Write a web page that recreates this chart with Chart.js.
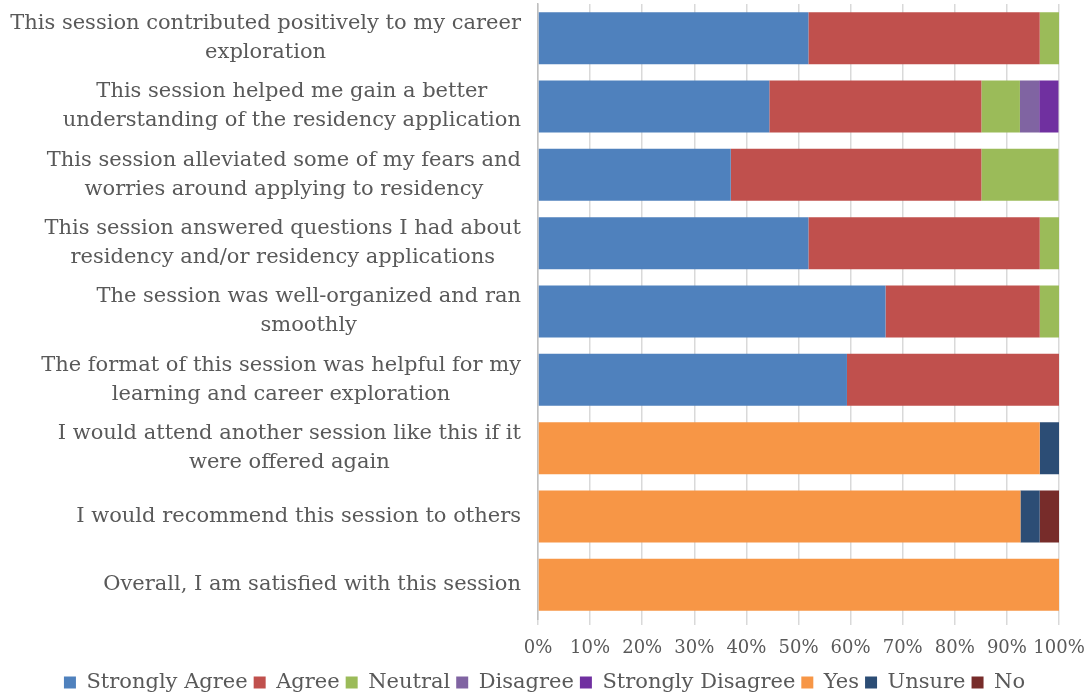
<!DOCTYPE html>
<html>
<head>
<meta charset="utf-8">
<script src="https://cdn.jsdelivr.net/npm/chart.js@4"></script>
<style>
html,body{margin:0;padding:0;background:#fff;}
#wrap{width:1089px;height:696px;}
</style>
</head>
<body>
<div id="wrap"><canvas id="c" width="1089" height="696"></canvas></div>
<script>
const categories = [
  ["This session contributed positively to my career", "exploration"],
  ["This session helped me gain a better", "understanding of the residency application"],
  ["This session alleviated some of my fears and", "worries around applying to residency"],
  ["This session answered questions I had about", "residency and/or residency applications"],
  ["The session was well-organized and ran", "smoothly"],
  ["The format of this session was helpful for my", "learning and career exploration"],
  ["I would attend another session like this if it", "were offered again"],
  ["I would recommend this session to others"],
  ["Overall, I am satisfied with this session"]
];
const stronglyAgree    = [51.9, 44.4, 37.0, 51.9, 66.7, 59.3, null, null, null];
const agree            = [44.4, 40.7, 48.1, 44.4, 29.6, 40.7, null, null, null];
const neutral          = [3.7, 7.4, 14.8, 3.7, 3.7, null, null, null, null];
const disagree         = [null, 3.7, null, null, null, null, null, null, null];
const stronglyDisagree = [null, 3.7, null, null, null, null, null, null, null];
const yes              = [null, null, null, null, null, null, 96.3, 92.6, 100];
const unsure           = [null, null, null, null, null, null, 3.7, 3.7, null];
const no               = [null, null, null, null, null, null, null, 3.7, null];
const xTicks = [0,10,20,30,40,50,60,70,80,90,100];

const FONT = "'DejaVu Serif', serif";
const TXT = '#595959';

const labelPlugin = {
  id: 'centeredYLabels',
  afterDraw(chart) {
    const ctx = chart.ctx;
    const y = chart.scales.y;
    ctx.save();
    ctx.font = "21px " + FONT;
    ctx.fillStyle = TXT;
    ctx.textAlign = 'center';
    ctx.textBaseline = 'middle';
    const right = 521, lh = 29;
    categories.forEach((lines, i) => {
      const cy = y.getPixelForTick(i);
      const w = Math.max(...lines.map(l => ctx.measureText(l).width));
      const cx = right - w / 2;
      const start = cy - (lines.length - 1) * lh / 2;
      lines.forEach((l, j) => ctx.fillText(l, cx, start + j * lh));
    });
    ctx.restore();
  }
};

const ds = (label, data, color) => ({label, data, backgroundColor: color, borderWidth: 0});

new Chart(document.getElementById('c'), {
  type: 'bar',
  data: {
    labels: categories.map(l => l.join(' ')),
    datasets: [
      ds('Strongly Agree', stronglyAgree, '#4F81BD'),
      ds('Agree', agree, '#C0504D'),
      ds('Neutral', neutral, '#9BBB59'),
      ds('Disagree', disagree, '#8064A2'),
      ds('Strongly Disagree', stronglyDisagree, '#7030A0'),
      ds('Yes', yes, '#F79646'),
      ds('Unsure', unsure, '#2C4D75'),
      ds('No', no, '#772C2A')
    ]
  },
  options: {
    indexAxis: 'y',
    responsive: false,
    animation: false,
    layout: {padding: {top: 4, right: 0, left: 0, bottom: -7}},
    datasets: {bar: {barPercentage: 1, categoryPercentage: 0.76}},
    plugins: {
      legend: {
        position: 'bottom',
        labels: {
          boxWidth: 12, boxHeight: 12, padding: 6,
          color: TXT, font: {family: FONT, size: 21}
        }
      },
      tooltip: {enabled: false}
    },
    scales: {
      x: {
        stacked: true, min: 0, max: 100,
        afterBuildTicks: s => { s.ticks = xTicks.map(v => ({value: v})); },
        afterFit: s => { s.height = 47; s.paddingRight = 30; s.paddingLeft = 0; },
        ticks: {callback: v => v + '%', color: TXT, font: {family: FONT, size: 18}, padding: 13, maxRotation: 0, autoSkip: false},
        grid: {color: '#D9D9D9', lineWidth: 1.5, tickLength: 6, drawTicks: true},
        border: {display: false}
      },
      y: {
        stacked: true,
        afterFit: s => { s.width = 538; },
        ticks: {display: false},
        grid: {display: false},
        border: {display: true, color: '#BFBFBF', width: 1.5}
      }
    }
  },
  plugins: [labelPlugin]
});
</script>
</body>
</html>
